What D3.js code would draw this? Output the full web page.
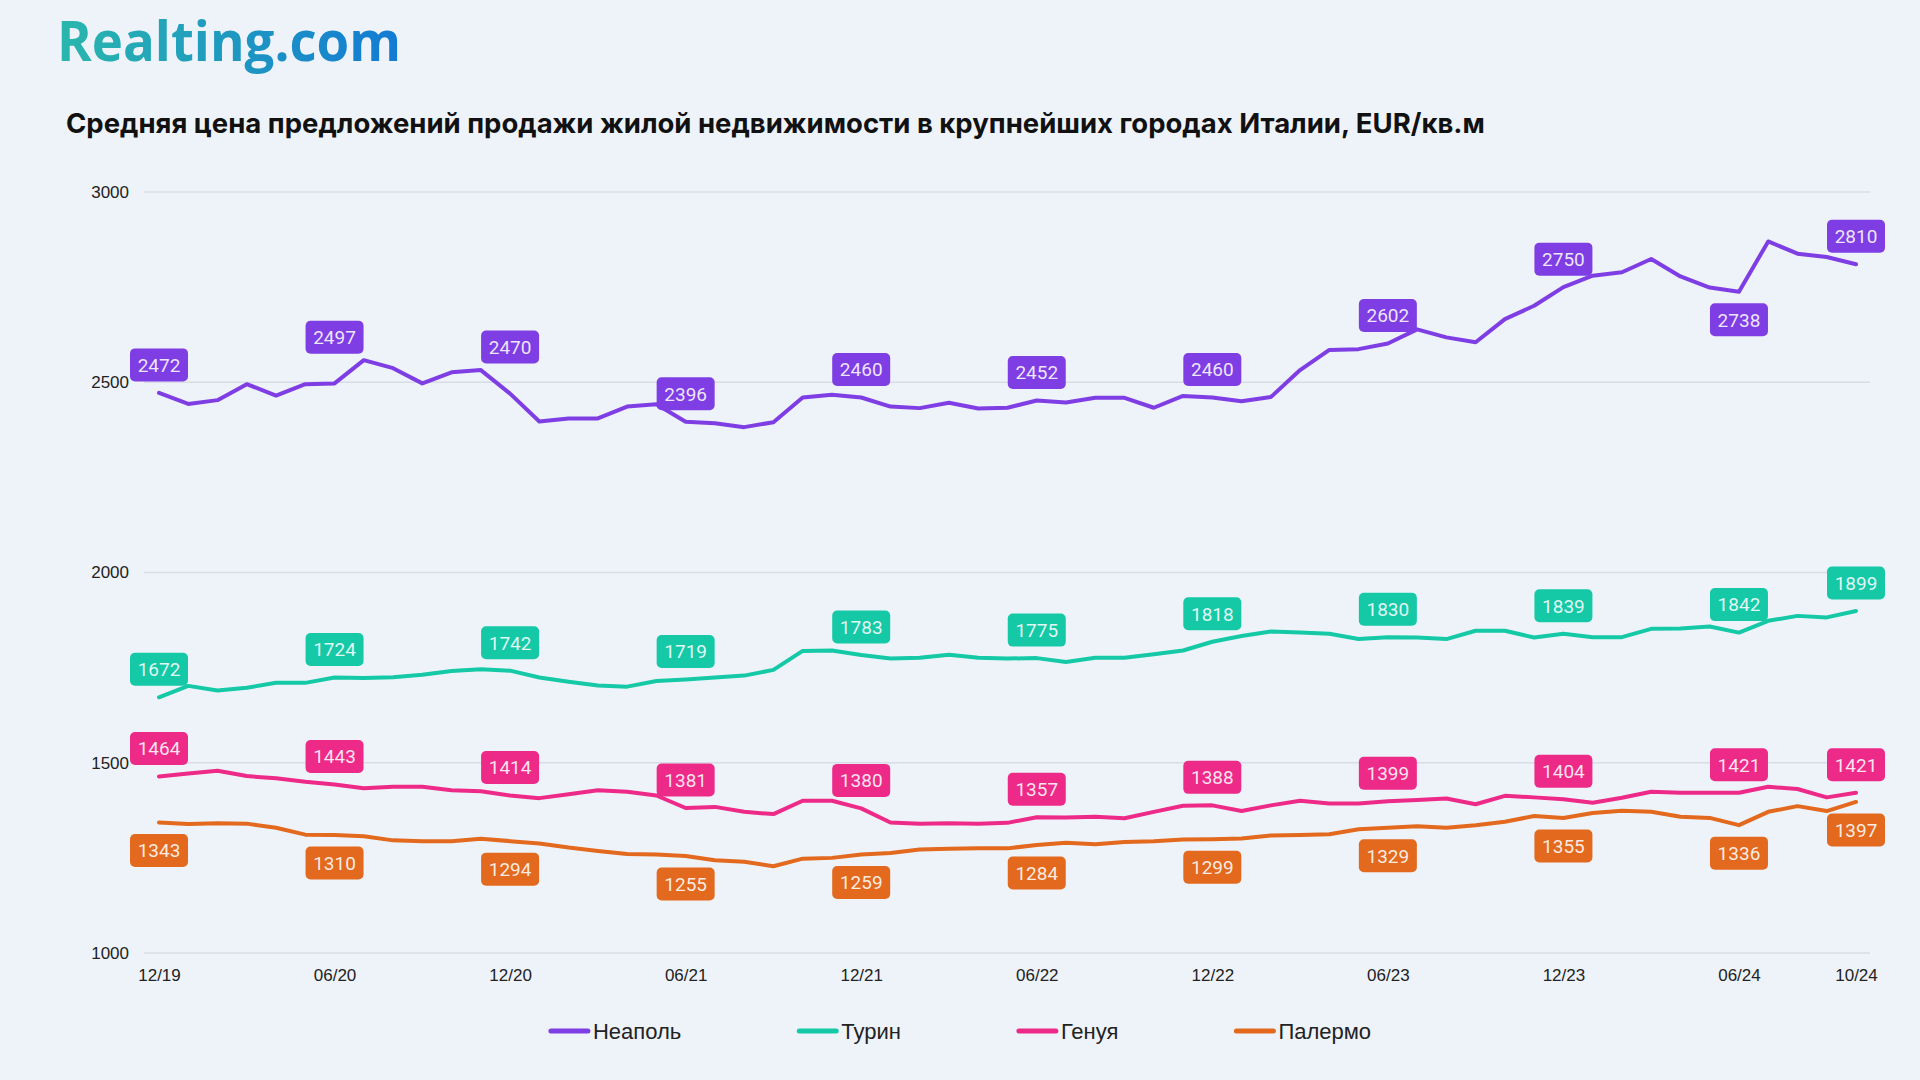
<!DOCTYPE html>
<html><head><meta charset="utf-8">
<script src="https://cdn.jsdelivr.net/npm/d3@7"></script>
<style>html,body{margin:0;padding:0;background:#eef3fa;} svg{display:block}</style>
</head><body><svg id="c" width="1920" height="1080"></svg>
<script>
const months = ["12/19","01/20","02/20","03/20","04/20","05/20","06/20","07/20","08/20","09/20","10/20","11/20",
"12/20","01/21","02/21","03/21","04/21","05/21","06/21","07/21","08/21","09/21","10/21","11/21",
"12/21","01/22","02/22","03/22","04/22","05/22","06/22","07/22","08/22","09/22","10/22","11/22",
"12/22","01/23","02/23","03/23","04/23","05/23","06/23","07/23","08/23","09/23","10/23","11/23",
"12/23","01/24","02/24","03/24","04/24","05/24","06/24","07/24","08/24","09/24","10/24"];
const naples = [2472,2443,2453,2495,2465,2495,2497,2558,2537,2497,2526,2532,2470,2397,2405,2405,2436,2442,2396,
2392,2382,2395,2460,2467,2460,2436,2432,2446,2431,2433,2452,2447,2459,2459,2433,2464,2460,2450,2461,
2532,2585,2587,2602,2639,2618,2605,2666,2701,2750,2780,2789,2824,2778,2749,2738,2870,2838,2829,2810];
const turin = [1672,1702,1690,1697,1710,1710,1724,1723,1725,1731,1741,1746,1742,1724,1713,1703,1700,1715,1719,
1724,1729,1744,1794,1795,1783,1774,1776,1784,1776,1774,1775,1765,1776,1776,1785,1795,1818,1833,1845,
1842,1839,1825,1830,1829,1825,1847,1847,1829,1839,1830,1830,1852,1853,1858,1842,1873,1886,1882,1899];
const genoa = [1464,1472,1479,1465,1459,1450,1443,1433,1437,1437,1428,1425,1414,1407,1417,1428,1424,1414,1381,
1384,1371,1365,1400,1400,1380,1343,1340,1341,1340,1342,1357,1356,1358,1354,1371,1387,1388,1373,1388,
1400,1393,1393,1399,1402,1406,1391,1413,1409,1404,1395,1408,1424,1421,1421,1421,1437,1431,1409,1421];
const palermo = [1343,1339,1341,1340,1329,1311,1310,1307,1296,1294,1294,1300,1294,1288,1277,1268,1260,1259,1255,
1244,1240,1228,1248,1250,1259,1263,1272,1274,1275,1275,1284,1290,1286,1292,1294,1298,1299,1301,1309,
1310,1312,1325,1329,1333,1329,1336,1345,1360,1355,1368,1374,1371,1358,1355,1336,1371,1386,1373,1397];
const seriesNames = ["Неаполь","Турин","Генуя","Палермо"];
const yTicks = [1000,1500,2000,2500,3000];
const xTickLabels = ["12/19","06/20","12/20","06/21","12/21","06/22","12/22","06/23","12/23","06/24","10/24"];
const titleText = "Средняя цена предложений продажи жилой недвижимости в крупнейших городах Италии, EUR/кв.м";
const logoText = "Realting.com";

const colors = ["#7e3ee4","#15c9a7","#ee2a88","#e2691d"];
const below = [["06/24"],[],[],xTickLabels];
const seriesData = [naples,turin,genoa,palermo];
const series = seriesNames.map((n,i)=>({name:n,values:seriesData[i],color:colors[i],below:below[i]}));

const svg = d3.select("#c");
svg.append("rect").attr("width",1920).attr("height",1080).attr("fill","#eef3fa");

// logo
const defs = svg.append("defs");
const g1 = defs.append("linearGradient").attr("id","lg").attr("x1","0%").attr("x2","100%");
g1.append("stop").attr("offset","0%").attr("stop-color","#2ab7ad");
g1.append("stop").attr("offset","100%").attr("stop-color","#137ad4");
svg.append("text").attr("x",57).attr("y",61).attr("font-family","'Open Sans',sans-serif").attr("font-weight",700)
  .attr("font-size",55).attr("textLength",344).attr("lengthAdjust","spacingAndGlyphs").attr("fill","url(#lg)").text(logoText);

// title
svg.append("text").attr("x",66).attr("y",133).attr("font-family","Inter, 'Open Sans', sans-serif").attr("font-weight",700)
  .attr("font-size",27.5).attr("fill","#111").text(titleText);

const x = d3.scalePoint().domain(months).range([159,1856]);
const y = d3.scaleLinear().domain([1000,3000]).range([953,192]);

// gridlines
svg.append("g").selectAll("line").data(yTicks).join("line")
  .attr("x1",144).attr("x2",1870).attr("y1",d=>y(d)).attr("y2",d=>y(d))
  .attr("stroke","#d8dde5").attr("stroke-width",1.5);

// y axis
const ya = svg.append("g").attr("transform","translate(144,0)")
  .call(d3.axisLeft(y).tickValues(yTicks).tickSize(0).tickPadding(15).tickFormat(d3.format("d")));
ya.select(".domain").remove();
ya.selectAll("text").attr("font-family","'Liberation Sans',Arial,sans-serif").attr("font-size",17).attr("fill","#222");

// x axis
const xa = svg.append("g").attr("transform","translate(0,953)")
  .call(d3.axisBottom(x).tickValues(xTickLabels).tickSize(0).tickPadding(16));
xa.select(".domain").remove();
xa.selectAll("text").attr("font-family","'Liberation Sans',Arial,sans-serif").attr("font-size",17).attr("fill","#222");

// lines
const line = d3.line().x((d,i)=>x(months[i])).y(d=>y(d));
svg.append("g").selectAll("path").data(series).join("path")
  .attr("d",s=>line(s.values)).attr("fill","none").attr("stroke",s=>s.color)
  .attr("stroke-width",4).attr("stroke-linejoin","round").attr("stroke-linecap","round");

// labels (placed above/below the point, lifted clear of the line where it would overlap heavily)
const off = 28, hh = 16.5;
series.forEach(s=>{
  const pts = xTickLabels.map(m=>{
    const i = months.indexOf(m), v = s.values[i], b = s.below.includes(m);
    let cy = y(v) + (b ? off : -off);
    const nb = [s.values[i-1], s.values[i+1]].filter(d=>d!==undefined).map(d=>y(d));
    if (!b) {
      const yn = Math.min(...nb);
      if (cy + hh > yn + 8) cy = yn - 23;
    } else {
      const yn = Math.max(...nb);
      if (cy - hh < yn - 8) cy = yn + 23;
    }
    return {m, v, cy};
  });
  const g = svg.append("g").selectAll("g").data(pts).join("g")
    .attr("transform",d=>`translate(${x(d.m)},${d.cy})`);
  g.append("rect").attr("x",-29).attr("y",-hh).attr("width",58).attr("height",hh*2).attr("rx",5).attr("fill",s.color);
  g.append("text").attr("text-anchor","middle").attr("dy","0.36em").attr("font-family","Roboto, sans-serif")
    .attr("font-size",19).attr("fill","#fff").attr("fill-opacity",0.88).text(d=>d.v);
});

// legend
const lg = svg.append("g");
let cx = 0;
series.forEach(s=>{
  const it = lg.append("g").attr("transform",`translate(${cx},0)`);
  it.append("line").attr("x1",2).attr("x2",39).attr("y1",0).attr("y2",0).attr("stroke",s.color).attr("stroke-width",5).attr("stroke-linecap","round");
  const t = it.append("text").attr("x",44).attr("dy","0.36em").attr("font-family","'Liberation Sans',Arial,sans-serif")
    .attr("font-size",22).attr("fill","#222").text(s.name);
  cx += 44 + t.node().getComputedTextLength() + 116;
});
const totalW = cx - 116;
lg.attr("transform",`translate(${960-totalW/2},1031)`);
</script></body></html>
